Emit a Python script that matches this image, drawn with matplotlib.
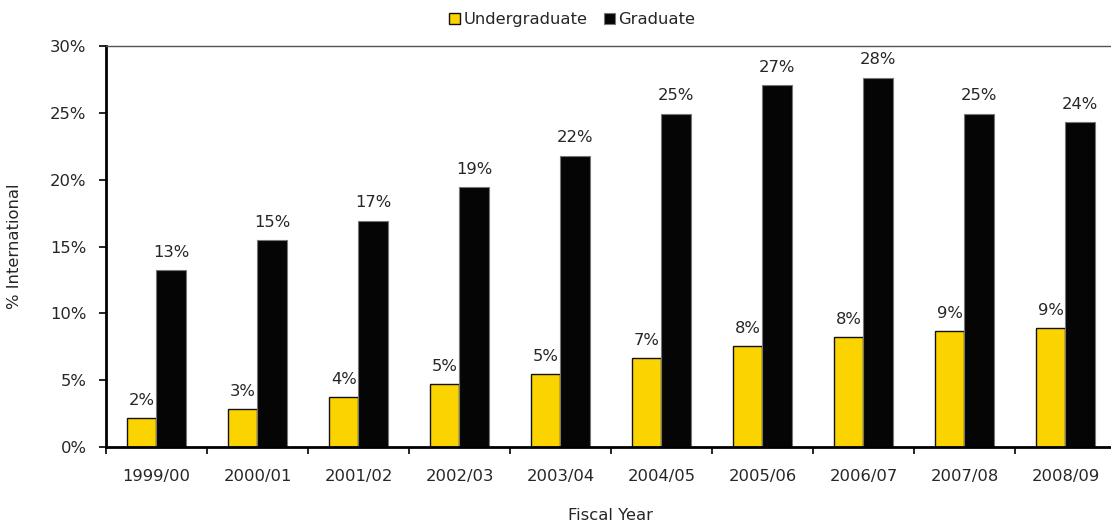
import numpy as np
import matplotlib
matplotlib.use('Agg')
from matplotlib import pyplot as plt
from matplotlib.ticker import FuncFormatter

years = ['1999/00', '2000/01', '2001/02', '2002/03', '2003/04',
         '2004/05', '2005/06', '2006/07', '2007/08', '2008/09']
undergrad = [2.17, 2.84, 3.74, 4.68, 5.45, 6.65, 7.55, 8.22, 8.65, 8.88]
graduate = [13.22, 15.45, 16.9, 19.42, 21.77, 24.95, 27.05, 27.6, 24.95, 24.3]

plt.rcParams['font.family'] = ['DejaVu Sans']
fs = 11.8
txt = '#262626'

fig = plt.figure(figsize=(11.11, 5.29), dpi=100)
ax = fig.add_axes([0.0954, 0.155, 0.909, 0.758])

x = np.arange(len(years))
w = 0.29
b1 = ax.bar(x - w / 2, undergrad, w, color='#FBD400', edgecolor='#111111', linewidth=1, label='Undergraduate')
b2 = ax.bar(x + w / 2, graduate, w, color='#050505', edgecolor='#777777', linewidth=0.8, label='Graduate')

for i in range(len(years)):
    ax.text(x[i] - w / 2, undergrad[i] + 0.75, f'{undergrad[i]:.0f}%', ha='center', va='bottom', fontsize=fs, color=txt)
    ax.text(x[i] + w / 2, graduate[i] + 0.8, f'{graduate[i]:.0f}%', ha='center', va='bottom', fontsize=fs, color=txt)

ax.set_xlim(-0.5, len(years) - 0.5)
ax.set_ylim(0, 30)
ax.set_yticks(np.arange(0, 31, 5))
ax.yaxis.set_major_formatter(FuncFormatter(lambda v, p: f'{v:.0f}%'))
ax.set_xticks(x)
ax.set_xticklabels(years)
ax.set_xticks(np.arange(-0.5, len(years)), minor=True)
ax.tick_params(axis='x', which='major', length=0, pad=16, labelsize=fs, labelcolor=txt)
ax.tick_params(axis='x', which='minor', length=5, width=1.2, direction='out')
ax.tick_params(axis='y', length=5, width=1.2, direction='out', pad=9, labelsize=fs, labelcolor=txt)

ax.spines['left'].set_linewidth(2)
ax.spines['bottom'].set_linewidth(2)
ax.spines['top'].set_color('#555555')
ax.spines['top'].set_linewidth(1)
ax.spines['right'].set_visible(False)

ax.set_ylabel('% International', fontsize=fs, color=txt, labelpad=20)
ax.set_xlabel('Fiscal Year', fontsize=fs, color=txt, labelpad=17)

fig.legend(handles=[b1, b2], loc='upper center', bbox_to_anchor=(0.515, 1.005), ncol=2,
           frameon=False, fontsize=fs, handlelength=0.7, handleheight=0.7,
           handletextpad=0.2, columnspacing=1.0, labelcolor=txt)

plt.savefig('out.png', dpi=100)
